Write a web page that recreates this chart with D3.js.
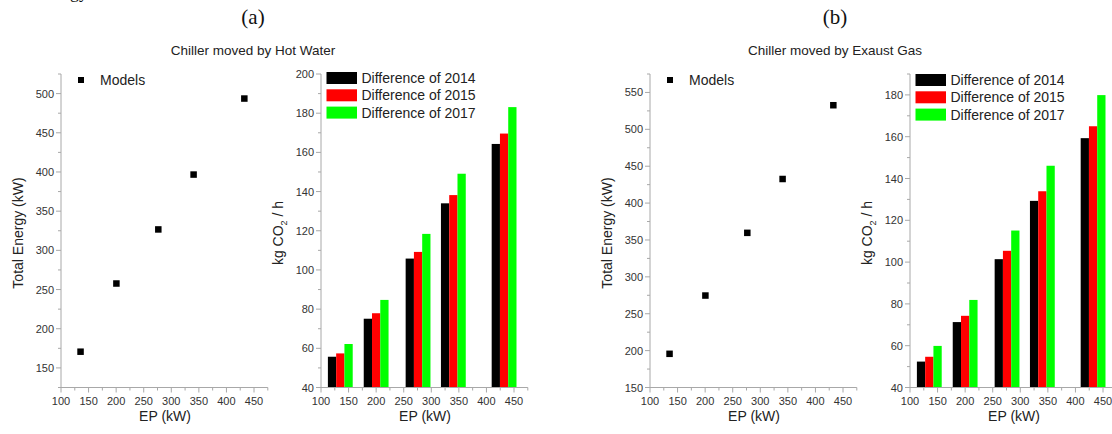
<!DOCTYPE html>
<meta charset="utf-8">
<style>
    body { margin: 0; overflow: hidden; background: #fff; }
    text { font-family: "Liberation Sans", Arial, sans-serif; }
    .serif { font-family: "Liberation Serif", "Times New Roman", serif; }
</style>
<svg id="canvas" width="1112" height="434"></svg>
<script src="https://d3js.org/d3.v7.min.js"></script>
<script>

    // EP values (kW) shared by both cases
    var ep = [135, 200, 276, 340, 432];

    // total energy of the models (kW)
    var energyHot = [171, 258, 327, 397, 494];
    var energyGas = [196, 275, 360, 433, 533];

    // kg CO2 / h differences
    var seriesNames = ["Difference of 2014", "Difference of 2015", "Difference of 2017"];
    var seriesColors = ["#000000", "#ff0000", "#00ff00"];
    var hot2014 = [55.7, 75.1, 105.8, 134.0, 164.3];
    var hot2015 = [57.4, 77.9, 109.2, 138.2, 169.6];
    var hot2017 = [62.2, 84.7, 118.4, 149.1, 183.1];
    var gas2014 = [52.4, 71.3, 101.4, 129.3, 159.3];
    var gas2015 = [54.7, 74.3, 105.4, 133.9, 165.0];
    var gas2017 = [59.9, 81.9, 115.1, 146.1, 179.9];

    var xTicks = [100, 150, 200, 250, 300, 350, 400, 450];

    var svg = d3.select("#canvas");
    var top_ = 74, bottom = 387.5, axisColor = "#a8a8a8";

    // stray text cut by the top of the picture (as in the source figure)
    svg.append("text").attr("class", "serif")
       .attr("x", 88).attr("y", -2).attr("text-anchor", "end")
       .attr("font-size", 18).attr("fill", "#111").text("Energy");

    function axes(g, x, y, yMajor, yMinorStep) {
        var xd = x.domain(), yd = y.domain();
        g.append("line").attr("x1", x(xd[0])).attr("x2", x(xd[1]))
         .attr("y1", bottom).attr("y2", bottom).attr("stroke", axisColor);
        g.append("line").attr("x1", x(xd[0])).attr("x2", x(xd[0]))
         .attr("y1", y(yd[0])).attr("y2", y(yd[1])).attr("stroke", axisColor);

        // x ticks, major every 50, minor every 25
        d3.range(xd[0], xd[1] + 0.1, 25).forEach(function(v) {
            var major = v % 50 === 0;
            g.append("line").attr("x1", x(v)).attr("x2", x(v))
             .attr("y1", bottom).attr("y2", bottom + (major ? 5 : 3)).attr("stroke", axisColor);
        });
        g.selectAll(".xl").data(xTicks).enter().append("text")
         .attr("x", function(d) { return x(d); }).attr("y", bottom + 17)
         .attr("text-anchor", "middle").attr("font-size", 11).attr("fill", "#333")
         .text(function(d) { return d; });

        d3.range(yd[0], yd[1] + 0.1, yMinorStep).forEach(function(v) {
            var major = yMajor.indexOf(v) >= 0;
            g.append("line").attr("x1", x(xd[0])).attr("x2", x(xd[0]) - (major ? 5 : 3))
             .attr("y1", y(v)).attr("y2", y(v)).attr("stroke", axisColor);
        });
        g.selectAll(".yl").data(yMajor).enter().append("text")
         .attr("x", x(xd[0]) - 7).attr("y", function(d) { return y(d) + 4; })
         .attr("text-anchor", "end").attr("font-size", 11).attr("fill", "#333")
         .text(function(d) { return d; });

        g.append("text").attr("x", x(xd[0]) + 104).attr("y", 421)
         .attr("text-anchor", "middle").attr("font-size", 14).attr("fill", "#222")
         .text("EP (kW)");
        return g;
    }

    function scatter(left, yDomain, yMajor, values) {
        var g = svg.append("g");
        var x = d3.scaleLinear().domain([100, 475]).range([left, left + 206.8]);
        var y = d3.scaleLinear().domain(yDomain).range([bottom, top_]);
        axes(g, x, y, yMajor, 25);

        g.append("text").attr("transform", "translate(" + (left - 38) + "," + 233 + ") rotate(-90)")
         .attr("text-anchor", "middle").attr("font-size", 14).attr("fill", "#222")
         .text("Total Energy (kW)");

        g.selectAll("rect.pt").data(values).enter().append("rect")
         .attr("x", function(d, i) { return x(ep[i]) - 3; })
         .attr("y", function(d) { return y(d) - 3; })
         .attr("width", 6.5).attr("height", 6.5).attr("fill", "#000");

        g.append("rect").attr("x", left + 17).attr("y", 77).attr("width", 6).attr("height", 6).attr("fill", "#000");
        g.append("text").attr("x", left + 39).attr("y", 85)
         .attr("font-size", 14).attr("fill", "#222").text("Models");
    }

    function bars(left, yDomain, yMajor, series, legendTop) {
        var g = svg.append("g");
        var x = d3.scaleLinear().domain([100, 475]).range([left, left + 206.8]);
        var y = d3.scaleLinear().domain(yDomain).range([bottom, top_]);

        series.forEach(function(vals, s) {
            g.selectAll("rect.s" + s).data(vals).enter().append("rect")
             .attr("x", function(d, i) { return x(ep[i] + (s - 1) * 15 - 7.5); })
             .attr("width", x(115) - x(100))
             .attr("y", function(d) { return y(d); })
             .attr("height", function(d) { return y(yDomain[0]) - y(d); })
             .attr("fill", seriesColors[s]);
        });

        axes(g, x, y, yMajor, 10);

        g.append("text").attr("transform", "translate(" + (left - 38) + "," + 233 + ") rotate(-90)")
         .attr("text-anchor", "middle").attr("font-size", 14).attr("fill", "#222")
         .call(function(t) {
             t.append("tspan").text("kg CO");
             t.append("tspan").attr("font-size", 9).attr("dy", 4).text("2");
             t.append("tspan").attr("dy", -4).text(" / h");
         });

        seriesNames.forEach(function(name, s) {
            var cy = legendTop + s * 17.3;
            g.append("rect").attr("x", left + 5.5).attr("y", cy - 6).attr("width", 30.5).attr("height", 12)
             .attr("fill", seriesColors[s]);
            g.append("text").attr("x", left + 40.5).attr("y", cy + 5)
             .attr("font-size", 14).attr("fill", "#222").text(name);
        });
    }

    function heading(cx, letter, title) {
        svg.append("text").attr("class", "serif").attr("x", cx).attr("y", 24)
           .attr("text-anchor", "middle").attr("font-size", 21).attr("fill", "#111").text(letter);
        svg.append("text").attr("x", cx).attr("y", 55)
           .attr("text-anchor", "middle").attr("font-size", 13.5).attr("fill", "#222").text(title);
    }

    heading(253, "(a)", "Chiller moved by Hot Water");
    heading(835, "(b)", "Chiller moved by Exaust Gas");

    scatter(61, [125, 525], [150, 200, 250, 300, 350, 400, 450, 500], energyHot);
    bars(321, [40, 200], [40, 60, 80, 100, 120, 140, 160, 180, 200], [hot2014, hot2015, hot2017], 78);
    scatter(650, [150, 575], [150, 200, 250, 300, 350, 400, 450, 500, 550], energyGas);
    bars(910, [40, 190], [40, 60, 80, 100, 120, 140, 160, 180], [gas2014, gas2015, gas2017], 80);

</script>
